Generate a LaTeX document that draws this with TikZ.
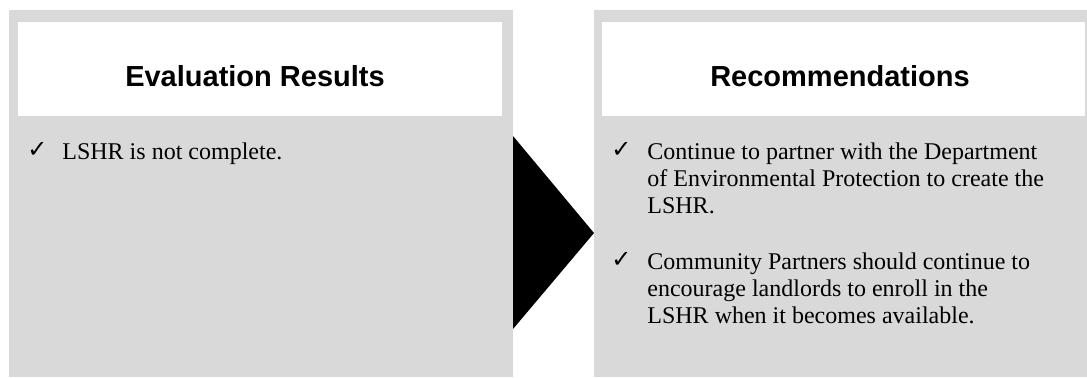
\documentclass[tikz,border=0pt]{standalone}
\usepackage{fontspec}
\setmainfont{Liberation Serif}
\setsansfont{Liberation Sans}
\newfontfamily\tickfont{DejaVu Sans}
\usetikzlibrary{positioning}

\definecolor{panelgray}{HTML}{D9D9D9}

\tikzset{
 headtext/.style={font=\sffamily\bfseries\fontsize{14.5}{17}\selectfont,anchor=base,inner sep=0pt},
 itemtext/.style={font=\fontsize{12}{13.5}\selectfont,anchor=base west,align=left,inner sep=0pt},
 tickmark/.style={font=\tickfont\fontsize{12}{12}\selectfont,anchor=base west,inner sep=0pt}
}

\begin{document}
\begin{tikzpicture}[x=0.5pt,y=-0.5pt]
 \useasboundingbox (0,0) rectangle (1087,377);
 % panels
 \fill[panelgray](9,10) rectangle (513,377);
 \fill[white](18,22) rectangle (502,116);
 \fill[panelgray](594,10) rectangle (1087,377);
 \fill[white](602,22) rectangle (1085,116);
 % arrow between the panels
 \fill[black](513,136)--(594,233)--(513,329)--cycle;
 % headers
 \node[headtext] (evalhead) at (255,86) {Evaluation Results};
 \node[headtext] (rechead) at (840,86) {Recommendations};
 % items (base is the last line)
 \node[tickmark] (evaltick) at (27,157) {✓};
 \node[itemtext] (evalitem) at (62,159) {LSHR is not complete.};
 \node[tickmark] (rectickA) at (611,157) {✓};
 \node[itemtext] (recitemA) at (647,213) {Continue to partner with the Department\\of Environmental Protection to create the\\LSHR.};
 \node[tickmark] (rectickB) at (611,267) {✓};
 \node[itemtext] (recitemB) at (647,323) {Community Partners should continue to\\encourage landlords to enroll in the\\LSHR when it becomes available.};
\end{tikzpicture}
\end{document}
